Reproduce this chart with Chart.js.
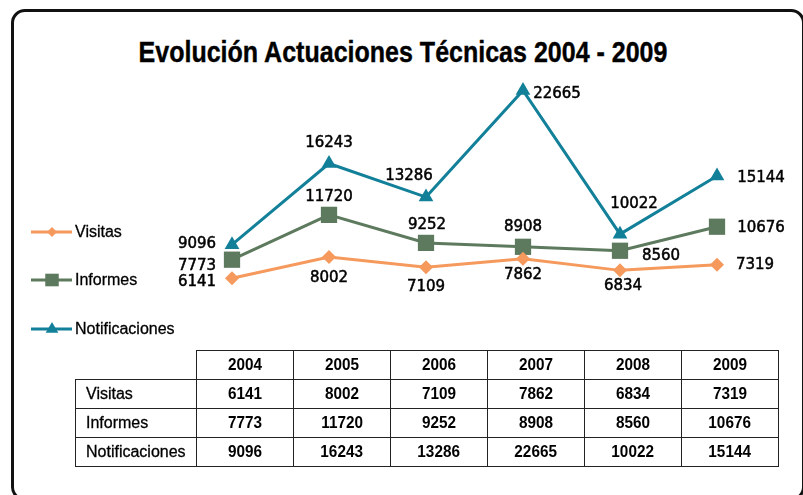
<!DOCTYPE html>
<html>
<head>
<meta charset="utf-8">
<script src="https://cdn.jsdelivr.net/npm/chart.js@4/dist/chart.umd.min.js"></script>
<style>
  html, body { margin: 0; padding: 0; background: #fff; }
  body { width: 803px; height: 495px; position: relative; overflow: hidden; font-family: "Liberation Sans", Arial, sans-serif; }
  #frame { position: absolute; left: 11px; top: 9px; width: 794px; height: 492px; box-sizing: border-box; border: 3px solid #111; border-radius: 14px; }
  #title { position: absolute; left: 0; width: 806px; top: 37px; text-align: center; font-weight: bold; font-size: 30px; line-height: 30px; color: #000; white-space: nowrap; transform: scaleX(0.834); transform-origin: 50% 50%; -webkit-text-stroke: 0.4px #000; }
  #chart { position: absolute; left: 0; top: 0; }
  #legend { position: absolute; left: 30px; top: 0; }
  .leg-item { position: absolute; left: 0; height: 20px; display: flex; align-items: center; white-space: nowrap; font-size: 16px; color: #000; -webkit-text-stroke: 0.3px #000; }
  .leg-item svg { display: block; margin-right: 1px; }
  #tbl { position: absolute; left: 75px; top: 350px; border-collapse: collapse; font-size: 17px; color: #000; }
  #tbl td, #tbl th { border: 1.5px solid #222; height: 28px; padding: 0; text-align: center; font-weight: bold; }
  #tbl td span, #tbl th span { display: inline-block; transform: scaleX(0.9); }
  #tbl td.lbl { width: 110px; text-align: left; padding-left: 10px; font-weight: normal; font-size: 16px; -webkit-text-stroke: 0.3px #000; }
  #tbl td.lbl span { transform: none; }
  #tbl td.yr, #tbl th.yr { width: 96px; }
  #tbl .empty { border: none; border-bottom: 1.5px solid #222; border-right: 1.5px solid #222; }
</style>
</head>
<body>
<div id="frame"></div>
<div id="title">Evolución Actuaciones Técnicas 2004 - 2009</div>
<canvas id="chart" width="803" height="495"></canvas>
<div id="legend"></div>
<table id="tbl"></table>
<script>
const years = ['2004', '2005', '2006', '2007', '2008', '2009'];
const visitas = [6141, 8002, 7109, 7862, 6834, 7319];
const informes = [7773, 11720, 9252, 8908, 8560, 10676];
const notificaciones = [9096, 16243, 13286, 22665, 10022, 15144];

// label offsets from each point (dx, dy), as placed in the original
const visitasLbl = [[-35, 4], [0, 21], [0, 20], [0, 16], [3, 16], [38, 0]];
const informesLbl = [[-35, 6], [0, -18], [1, -18], [0, -20], [41, 5], [44, 1]];
const notifLbl = [[-35, -1], [0, -20], [-17, -21], [34, 4], [14, -30], [44, 2]];

const COLORS = { visitas: '#F5995C', informes: '#5E7A5E', notif: '#13809A' };

const series = [
  { label: 'Visitas', data: visitas, color: COLORS.visitas, style: 'rectRot', radius: 7, legR: 5, lbl: visitasLbl },
  { label: 'Informes', data: informes, color: COLORS.informes, style: 'rect', radius: 11.5, legR: 9, lbl: informesLbl },
  { label: 'Notificaciones', data: notificaciones, color: COLORS.notif, style: 'triangle', radius: 8.5, legR: 7, lbl: notifLbl },
];

const valueLabels = {
  id: 'valueLabels',
  afterDatasetsDraw(chart) {
    const { ctx } = chart;
    ctx.save();
    ctx.font = '15px "DejaVu Sans", sans-serif';
    ctx.fillStyle = '#000';
    ctx.strokeStyle = '#000';
    ctx.lineWidth = 0.5;
    ctx.textAlign = 'center';
    ctx.textBaseline = 'middle';
    chart.data.datasets.forEach((ds, i) => {
      const meta = chart.getDatasetMeta(i);
      meta.data.forEach((pt, j) => {
        const [dx, dy] = series[i].lbl[j];
        const txt = String(ds.data[j]);
        ctx.fillText(txt, pt.x + dx, pt.y + dy);
        ctx.strokeText(txt, pt.x + dx, pt.y + dy);
      });
    });
    ctx.restore();
  }
};

new Chart(document.getElementById('chart'), {
  type: 'line',
  data: {
    labels: years,
    datasets: series.map(s => ({
      label: s.label,
      data: s.data,
      borderColor: s.color,
      backgroundColor: s.color,
      borderWidth: 3,
      tension: 0,
      pointStyle: s.style,
      pointRadius: s.radius,
      pointBorderWidth: 0,
      pointHoverRadius: s.radius,
    }))
  },
  options: {
    responsive: false,
    animation: false,
    layout: { padding: { left: 183.5, right: 37.5, top: 64, bottom: 147 } },
    plugins: { legend: { display: false }, tooltip: { enabled: false }, title: { display: false } },
    scales: {
      x: { display: false, offset: true },
      y: { display: false, min: 0, max: 25000 }
    }
  },
  plugins: [valueLabels]
});

// legend
const legendTops = [222, 270, 319];
const legEl = document.getElementById('legend');
series.forEach((s, i) => {
  const r = s.legR;
  let mark = '';
  if (s.style === 'rectRot') mark = `<polygon points="22,${10 - r} ${22 + r},10 22,${10 + r} ${22 - r},10" fill="${s.color}"/>`;
  else if (s.style === 'rect') mark = `<rect x="${22 - r * 0.75}" y="${10 - r * 0.7}" width="${r * 1.5}" height="${r * 1.4}" fill="${s.color}"/>`;
  else mark = `<polygon points="22,${10 - r} ${22 + r * 0.9},${10 + r * 0.55} ${22 - r * 0.9},${10 + r * 0.55}" fill="${s.color}"/>`;
  const div = document.createElement('div');
  div.className = 'leg-item';
  div.style.top = legendTops[i] + 'px';
  div.innerHTML = `<svg width="44" height="20"><line x1="1" y1="10" x2="42" y2="10" stroke="${s.color}" stroke-width="3"/>${mark}</svg><span>${s.label}</span>`;
  legEl.appendChild(div);
});

// data table
const tbl = document.getElementById('tbl');
let html = '<tr><td class="empty lbl"></td>' + years.map(y => `<th class="yr"><span>${y}</span></th>`).join('') + '</tr>';
series.forEach(s => {
  html += `<tr><td class="lbl"><span>${s.label}</span></td>` + s.data.map(v => `<td class="yr"><span>${v}</span></td>`).join('') + '</tr>';
});
tbl.innerHTML = html;
</script>
</body>
</html>
